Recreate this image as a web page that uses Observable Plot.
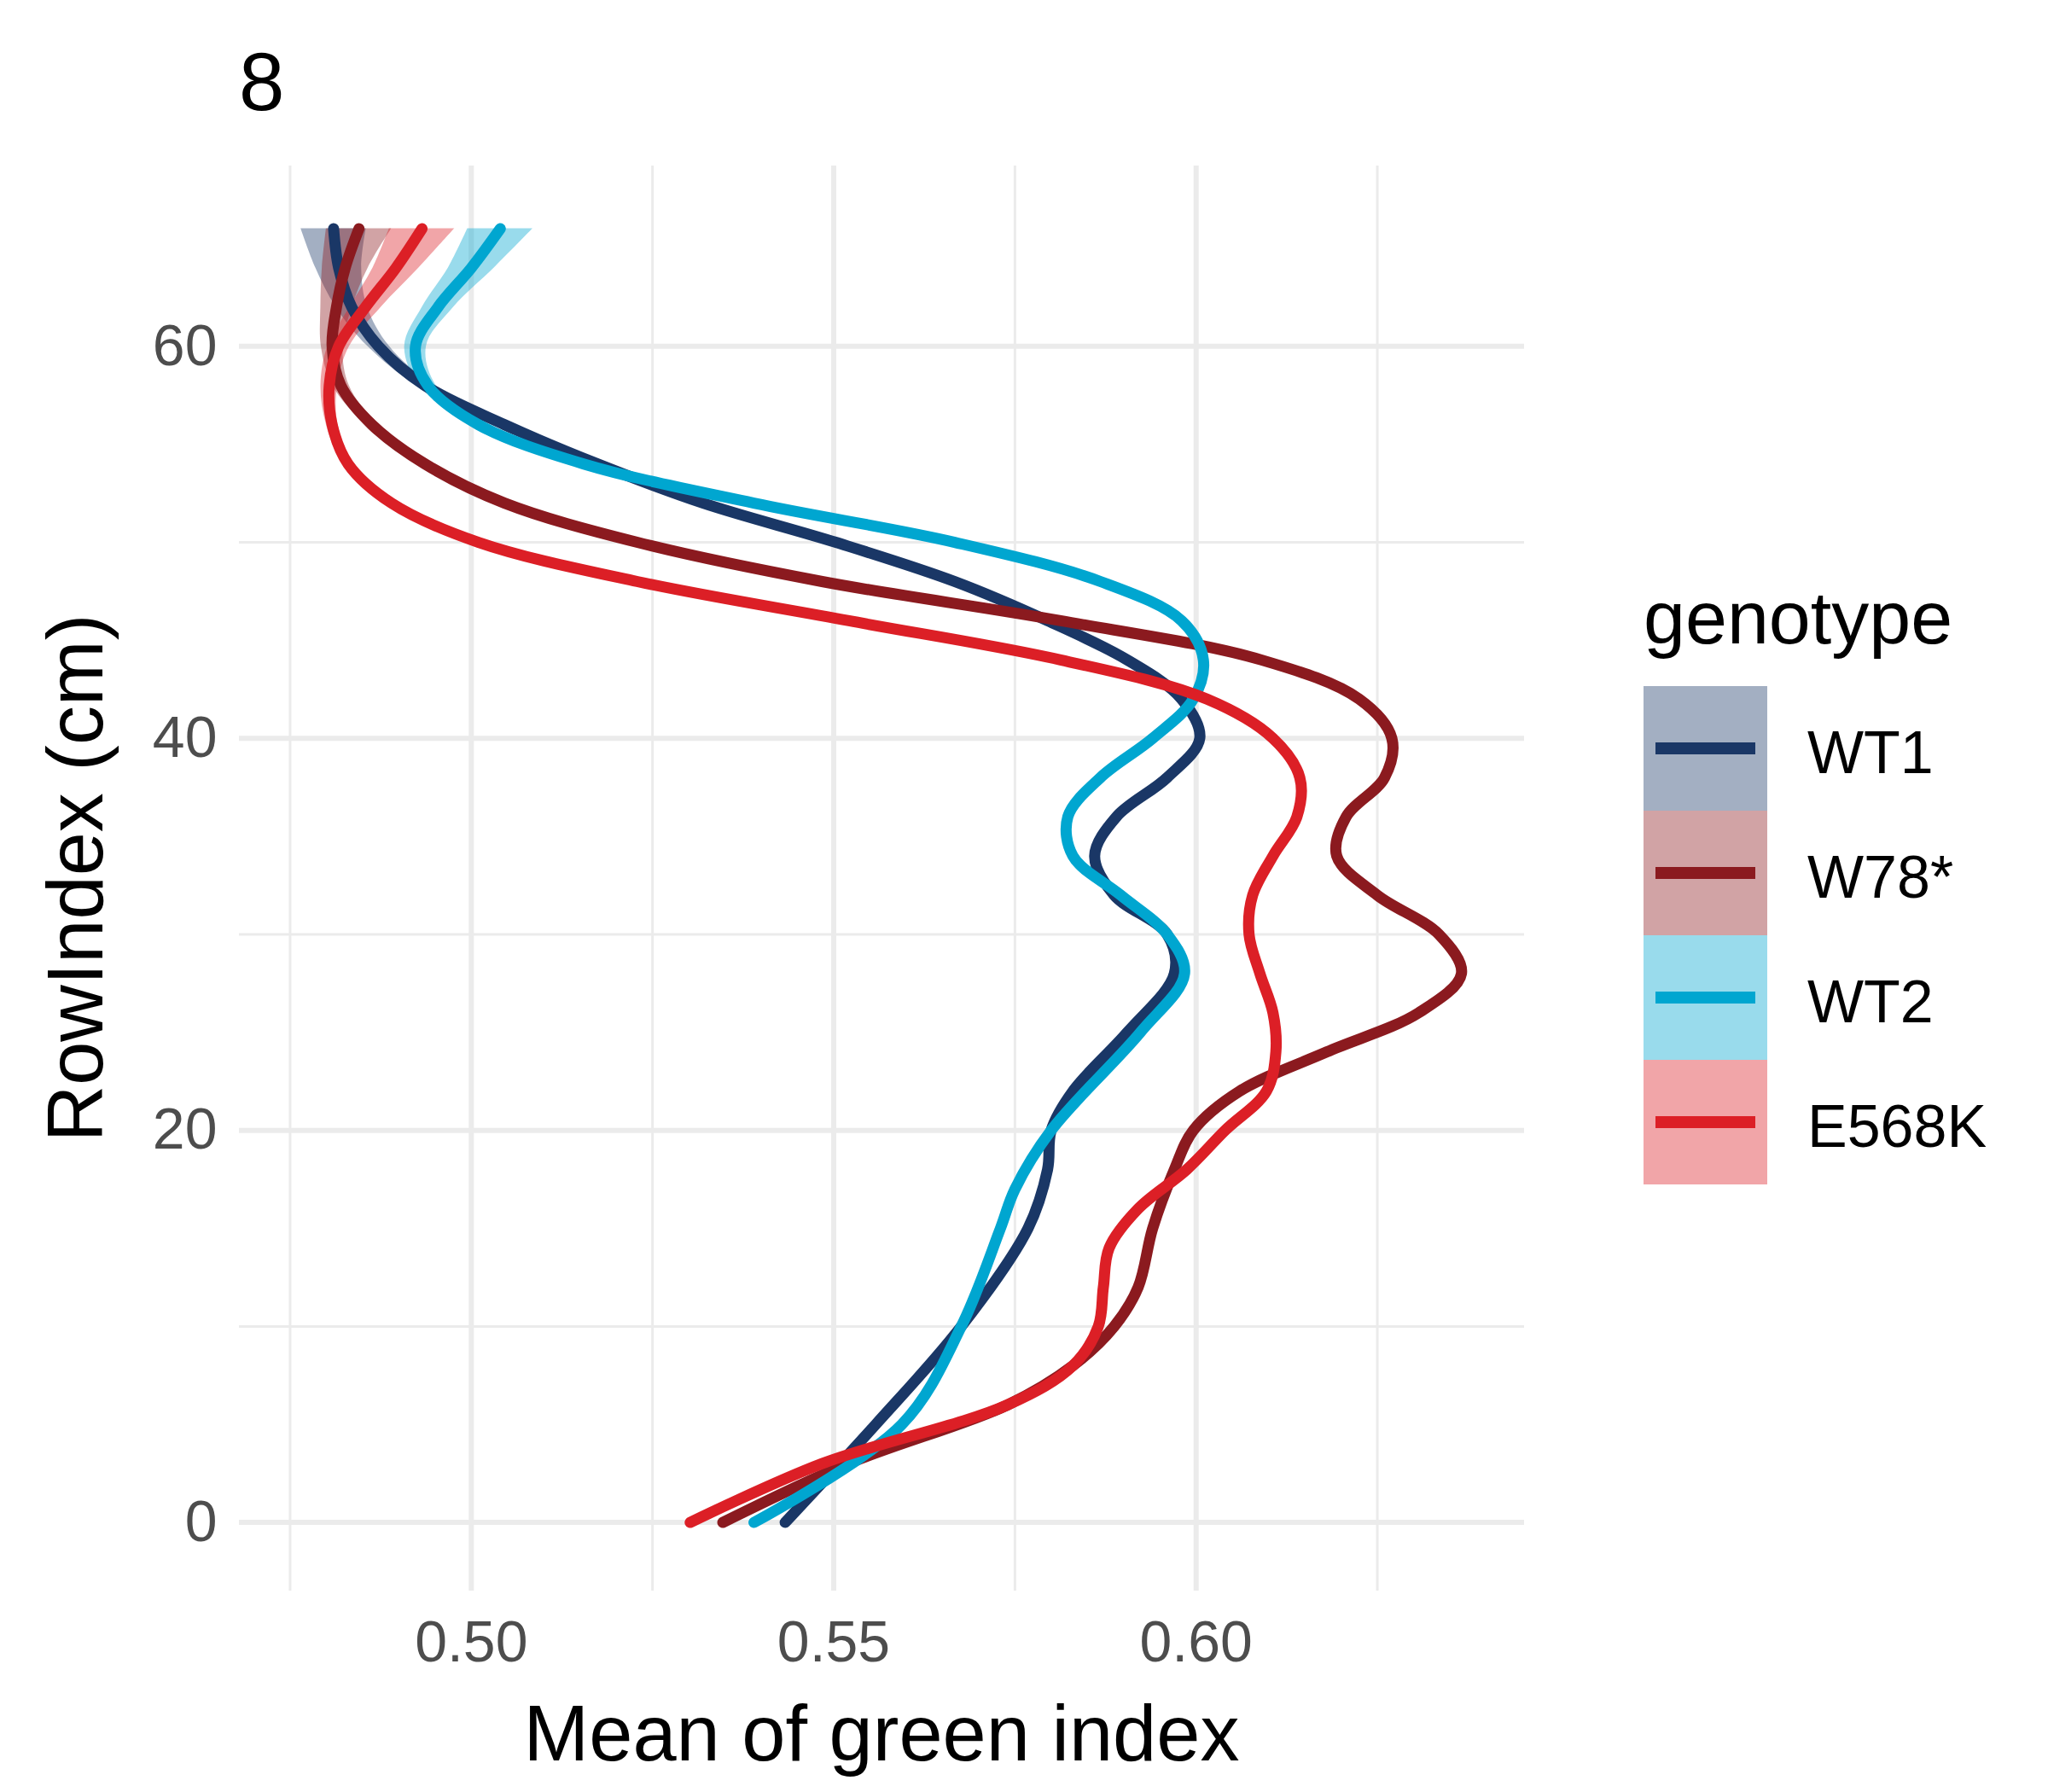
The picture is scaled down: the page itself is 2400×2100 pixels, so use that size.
<!DOCTYPE html>
<html><head><meta charset="utf-8">
<script src="https://cdn.jsdelivr.net/npm/d3@7"></script>
<script src="https://cdn.jsdelivr.net/npm/@observablehq/plot@0.6"></script>
<style>body{margin:0;background:#fff;font-family:Arial,"Liberation Sans",sans-serif}
#wrap{position:relative;width:2400px;height:2100px}
.abs{position:absolute;line-height:1}</style></head><body><div id="wrap"></div>
<script>
const genotypes = ["WT1","W78*","WT2","E568K"];
const colors = ["#1a3766","#8b1a1f","#00a6d0","#dc1f26"];
const ys = [0,5,10,15,18,20,22,25,28,30,32,34,36,38,40,42,44,46,48,50,52,54,56,58,60,62,64,66];
const wt1 = [0.5433,0.5558,0.5676,0.5768,0.5795,0.580,0.583,0.5905,0.597,0.596,0.5887,0.586,0.589,0.596,0.6005,0.598,0.5905,0.5795,0.5667,0.5503,0.532,0.5174,0.5046,0.4936,0.4872,0.4835,0.4817,0.481];
const ys2 = [0,5,10,15,17,20,25,28,30,32,34,36,38,40,42,44,46,48,50,52,54,56,58,60,62,64,66];
const wt2 = [0.539,0.5594,0.5676,0.573,0.575,0.580,0.5923,0.5984,0.596,0.5896,0.583,0.5823,0.5868,0.594,0.5996,0.601,0.598,0.5868,0.5667,0.539,0.5155,0.501,0.494,0.4923,0.4954,0.500,0.504];
const ys3 = [0,3,6,8,10,12,15,18,20,22,24,26,28,30,32,34,36,38,40,42,44,46,48,50,52,54,56,58,60,62,64,66];
const w78 = [0.5347,0.552,0.574,0.583,0.5887,0.592,0.594,0.597,0.5996,0.606,0.618,0.6307,0.6366,0.6335,0.625,0.6194,0.6207,0.626,0.627,0.6225,0.609,0.5813,0.5484,0.5229,0.5046,0.4936,0.4863,0.482,0.4808,0.4814,0.4826,0.4845];
const ys4 = [0,3,6,8,10,12,14,16,18,20,22,24,26,28,30,32,34,36,38,40,42,44,46,48,50,52,54,56,58,60,62,64,66];
const e568k = [0.5302,0.5484,0.574,0.583,0.5865,0.5872,0.588,0.592,0.5987,0.604,0.6097,0.611,0.6106,0.6088,0.6073,0.6078,0.6106,0.6139,0.6143,0.6106,0.6015,0.5813,0.5521,0.5229,0.501,0.489,0.483,0.4808,0.4804,0.4817,0.4854,0.4896,0.4932];
// ribbon half-width read at y values (only visible near the top)
const seY = [0,20,40,50,56,60,63,66];
const seW = [0.0004,0.0004,0.0004,0.0005,0.0008,0.0015,0.0025,0.0045];
const xMajor=[0.50,0.55,0.60], xMinor=[0.475,0.525,0.575,0.625];
const yMajor=[0,20,40,60], yMinor=[10,30,50];

const series=[[wt1,ys],[w78,ys3],[wt2,ys2],[e568k,ys4]];
function se(y){for(let i=1;i<seY.length;i++){if(y<=seY[i]){const t=(y-seY[i-1])/(seY[i]-seY[i-1]);return seW[i-1]+t*(seW[i]-seW[i-1]);}}return seW[seW.length-1];}
const rows=[];
series.forEach(([xs,yy],k)=>xs.forEach((x,i)=>rows.push({g:genotypes[k],x,y:yy[i],lo:x-se(yy[i]),hi:x+se(yy[i])})));

const plot=Plot.plot({
  width:2400,height:2100,marginLeft:280,marginRight:614,marginTop:194,marginBottom:236,
  x:{domain:[0.468,0.6453]},y:{domain:[-3.5,69.2]},
  color:{domain:genotypes,range:colors},
  style:{fontFamily:"Arial, Liberation Sans, sans-serif",background:"#fff"},
  marks:[
    Plot.ruleX(xMinor,{stroke:"#ebebeb",strokeWidth:3}),
    Plot.ruleY(yMinor,{stroke:"#ebebeb",strokeWidth:3}),
    Plot.ruleX(xMajor,{stroke:"#ebebeb",strokeWidth:6}),
    Plot.ruleY(yMajor,{stroke:"#ebebeb",strokeWidth:6}),
    Plot.areaX(rows,{y:"y",x1:"lo",x2:"hi",z:"g",fill:"g",fillOpacity:0.4,curve:"catmull-rom"}),
    Plot.line(rows,{x:"x",y:"y",z:"g",stroke:"g",strokeWidth:13,curve:"catmull-rom"}),
    Plot.axisX(xMajor,{tickSize:0,tickPadding:34,fontSize:68,fill:"#4d4d4d",tickFormat:d3.format(".2f"),label:null}),
    Plot.axisY(yMajor,{tickSize:0,tickPadding:26,fontSize:68,fill:"#4d4d4d",label:null})
  ]
});
const wrap=document.getElementById("wrap");
plot.style.position="absolute";plot.style.left="0";plot.style.top="0";
wrap.appendChild(plot);
function add(html,css){const d=document.createElement("div");d.className="abs";d.innerHTML=html;Object.assign(d.style,css);wrap.appendChild(d);return d;}
add("8",{left:"280px",top:"48px",fontSize:"96px"});
add("Mean of green index",{left:"280px",width:"1506px",textAlign:"center",top:"1985px",fontSize:"92px"});
add("RowIndex (cm)",{left:"88px",top:"1029px",fontSize:"92px",transform:"translate(-50%,-50%) rotate(-90deg)",whiteSpace:"nowrap"});
add("genotype",{left:"1926px",top:"680px",fontSize:"88px"});
genotypes.forEach((g,i)=>{
  const top=804+i*146;
  add("",{left:"1926px",top:top+"px",width:"145px",height:"146px",background:colors[i],opacity:0.4});
  add("",{left:"1940px",top:(top+66)+"px",width:"117px",height:"14px",background:colors[i]});
  add(g,{left:"2118px",top:(top+43)+"px",fontSize:"70px"});
});
</script></body></html>
